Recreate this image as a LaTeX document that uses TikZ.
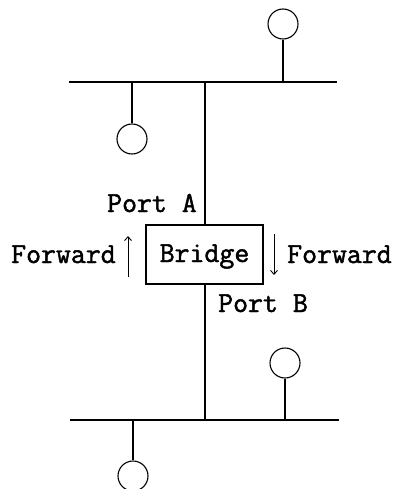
\documentclass[tikz,border=0pt]{standalone}
\usepackage{fontspec}
\newfontfamily\courfont[FakeBold=1.6]{Latin Modern Mono}
\usetikzlibrary{arrows.meta}
\begin{document}
\begin{tikzpicture}[x=1pt,y=-1pt,
  bus/.style={line width=1.6pt},
  stem/.style={line width=1.4pt},
  host/.style={circle,draw,line width=1.1pt,minimum size=30pt,inner sep=0pt},
  lbl/.style={font=\courfont\fontsize{29}{29}\selectfont,inner sep=0pt},
  fwd/.style={line width=0.9pt,-{Straight Barb[length=4pt,width=7pt]}}]
\useasboundingbox (0,0) rectangle (399,489);
% bridge
\node[draw,line width=1.2pt,minimum width=117pt,minimum height=59pt,inner sep=0pt] (br) at (204.5,254.5) {};
\node[lbl,anchor=base] (brt) at (204.5,262) {Bridge};
% top bus
\coordinate (t1) at (69,82);
\coordinate (t2) at (337,82);
\coordinate (tj) at (205,82);
\coordinate (tl) at (132,82);
\coordinate (tr) at (283,82);
\draw[bus] (t1) -- (t2);
\draw[bus] (tj) -- (tj |- br.north);
\node[host] (h1) at (283,24) {};
\node[host] (h2) at (132,139) {};
\draw[stem] (tr) -- (h1.south);
\draw[stem] (tl) -- (h2.north);
% bottom bus
\coordinate (b1) at (70,420);
\coordinate (b2) at (339,420);
\coordinate (bj) at (205,420);
\coordinate (bl) at (133,420);
\coordinate (brr) at (285,420);
\draw[bus] (b1) -- (b2);
\draw[bus] (bj |- br.south) -- (bj);
\node[host] (h3) at (285,363) {};
\node[host] (h4) at (133,476) {};
\draw[stem] (brr) -- (h3.south);
\draw[stem] (bl) -- (h4.north);
% labels
\node[lbl,anchor=base east] (pa) at (197,212) {Port A};
\node[lbl,anchor=base west] (pb) at (218,312) {Port B};
\node[lbl,anchor=base west] (fl) at (11,263) {Forward};
\node[lbl,anchor=base west] (fr) at (287,263) {Forward};
\coordinate (ua) at (128,277);
\coordinate (ub) at (128,236);
\coordinate (da) at (274,234);
\coordinate (db) at (274,275);
\draw[fwd] (ua) -- (ub);
\draw[fwd] (da) -- (db);
\end{tikzpicture}
\end{document}
